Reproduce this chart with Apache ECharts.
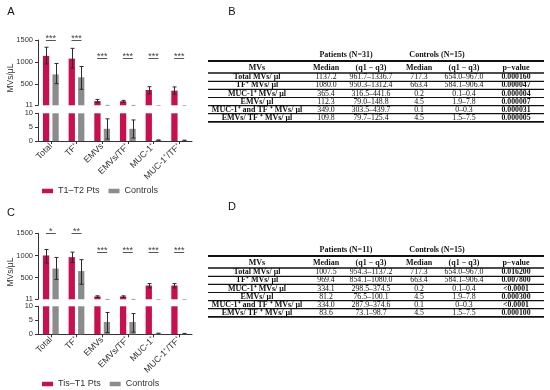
<!DOCTYPE html>
<html><head><meta charset="utf-8">
<script src="https://cdn.jsdelivr.net/npm/echarts@6/dist/echarts.min.js"></script>
<style>html,body{margin:0;padding:0;background:#fff}#c{width:550px;height:390px}</style>
</head><body><div id="c"></div><script>
// ---------- data ----------
const categories = ['Total', 'TF⁺', 'EMVs', 'EMVs/TF⁺', 'MUC-1⁺', 'MUC-1⁺/TF⁺'];
const topTicks = [11, 500, 1000, 1500];
// Panel A (T1–T2 Pts vs Controls)
const ptsA = [1137, 1075, 108, 103, 360, 345];
const ptsALow = [955, 860, 72, 76, 272, 262];
const ptsAHigh = [1335, 1310, 145, 124, 435, 430];
const ctlA = [715, 650, 4.4, 4.4, 0.2, 0.1];
const ctlALow = [505, 375, 0.7, 1.1, 0.1, 0];
const ctlAHigh = [965, 895, 8.0, 7.6, 0.4, 0.3];
const sigA = ['***', '***', '***', '***', '***', '***'];
const sigAHeight = [1500, 1500, 1080, 1080, 1080, 1080];
// Panel C (Tis–T1 Pts vs Controls)
const ptsC = [1000, 962, 75, 75, 322, 322];
const ptsCLow = [830, 840, 52, 52, 268, 268];
const ptsCHigh = [1135, 1075, 90, 90, 365, 365];
const ctlC = [705, 648, 4.4, 4.4, 0.2, 0.1];
const ctlCLow = [460, 350, 0.6, 0.8, 0.1, 0];
const ctlCHigh = [955, 905, 7.8, 7.4, 0.4, 0.3];
const sigC = ['*', '**', '***', '***', '***', '***'];
const sigCHeight = [1510, 1510, 1080, 1080, 1080, 1080];
// Tables B and D
const tableHeaders = ['MVs', 'Median', '(q1 − q3)', 'Median', '(q1 − q3)', 'p−value'];
const tableRowLabels = ['Total MVs/ μl', 'TF⁺ MVs/ μl', 'MUC-1⁺ MVs/ μl', 'EMVs/ μl', 'MUC-1⁺ and TF ⁺ MVs/ μl', 'EMVs/ TF ⁺ MVs/ μl'];
const controlsMedian = ['717.3', '663.4', '0.2', '4.5', '0.1', '4.5'];
const controlsRange = ['654.0–967.0', '584.1–906.4', '0.1–0.4', '1.9–7.8', '0–0.3', '1.5–7.5'];
const tableBMedian = ['1137.2', '1080.0', '365.4', '112.3', '349.0', '109.8'];
const tableBRange = ['961.7–1336.7', '950.3–1312.4', '316.5–441.6', '79.0–148.8', '303.5–439.7', '79.7–125.4'];
const tableBP = ['0.000160', '0.000047', '0.000004', '0.000007', '0.000031', '0.000005'];
const tableDMedian = ['1007.5', '969.4', '334.1', '81.2', '334.0', '83.6'];
const tableDRange = ['954.3–1137.2', '854.1–1080.0', '298.5–374.5', '76.5–100.1', '287.9–374.6', '73.1–98.7'];
const tableDP = ['0.016200', '0.007800', '<0.0001', '0.000300', '<0.0001', '0.000100'];

// ---------- style ----------
const RED = '#C8104E', GRAY = '#8C8C8C', AX = '#333';
const SANS = '"Liberation Sans", Arial, sans-serif';
const SERIF = '"Liberation Serif", "Times New Roman", serif';
const BW = 6.3, GAP = '50%', OFF = BW * 1.5 / 2;

const chart = echarts.init(document.getElementById('c'), null, {renderer: 'canvas'});

const grids = [
  {left: 38, top: 40, width: 154, height: 65.3},
  {left: 38, top: 113.3, width: 154, height: 27.7},
  {left: 38, top: 233.3, width: 154, height: 66},
  {left: 38, top: 306.3, width: 154, height: 28}
];

function xAxisFor(i, bottom) {
  return {
    type: 'category', gridIndex: i, data: categories,
    axisLine: {show: bottom, lineStyle: {color: AX, width: 1}},
    axisTick: {show: bottom, alignWithLabel: true, length: 3, lineStyle: {color: AX}},
    axisLabel: {show: bottom, rotate: 45, fontSize: 8.8, color: '#333', fontFamily: SANS, margin: 4, interval: 0},
    splitLine: {show: false}
  };
}
function yAxisFor(i, bottom) {
  const base = {
    type: 'value', gridIndex: i,
    axisLine: {show: true, lineStyle: {color: AX, width: 1}},
    axisTick: {show: true, length: 3, lineStyle: {color: AX}},
    axisLabel: {fontSize: 7.5, color: '#333', fontFamily: SANS, margin: 5, showMinLabel: true, showMaxLabel: true,
      formatter: function (v) { return String(v); }},
    splitLine: {show: false}
  };
  if (bottom) { base.min = 0; base.max = 10; base.interval = 5; }
  else {
    base.min = 11; base.max = 1500;
    base.axisTick.customValues = topTicks;
    base.axisLabel.customValues = topTicks;
  }
  return base;
}

function errRender(offset) {
  return function (params, api) {
    const i = api.value(0);
    const pHi = api.coord([i, api.value(2)]);
    const pLo = api.coord([i, api.value(1)]);
    const x = Math.round(pHi[0] + offset) + 0.5;
    const c = 2;
    const st = {stroke: '#2b2b2b', lineWidth: 1};
    return {type: 'group', children: [
      {type: 'line', shape: {x1: x, y1: pHi[1], x2: x, y2: pLo[1]}, style: st},
      {type: 'line', shape: {x1: x - c, y1: pHi[1], x2: x + c, y2: pHi[1]}, style: st},
      {type: 'line', shape: {x1: x - c, y1: pLo[1], x2: x + c, y2: pLo[1]}, style: st}
    ]};
  };
}
function sigRender(labels) {
  return function (params, api) {
    const p = api.coord([api.value(0), api.value(1)]);
    const x = p[0], y = Math.round(p[1]) + 0.5;
    return {type: 'group', children: [
      {type: 'line', shape: {x1: x - 5, y1: y, x2: x + 5, y2: y}, style: {stroke: '#555', lineWidth: 1}},
      {type: 'text', x: x, y: y - 1.5, style: {text: labels[params.dataIndex], fill: '#444', fontSize: 9, fontFamily: SANS, align: 'center', verticalAlign: 'middle'}}
    ]};
  };
}

function panelSeries(gTop, ptsName, pts, pLo, pHi, ctl, cLo, cHi, sig, sigH) {
  const s = [];
  [gTop, gTop + 1].forEach(function (g) {
    s.push({type: 'bar', name: ptsName, xAxisIndex: g, yAxisIndex: g, data: pts, barWidth: BW, barGap: GAP, clip: true, itemStyle: {color: RED}, silent: true});
    s.push({type: 'bar', name: 'Controls', xAxisIndex: g, yAxisIndex: g, data: ctl, barWidth: BW, barGap: GAP, clip: true, itemStyle: {color: GRAY}, silent: true});
    s.push({type: 'custom', xAxisIndex: g, yAxisIndex: g, clip: true, z: 5, silent: true,
      data: pts.map(function (v, i) { return [i, pLo[i], pHi[i]]; }),
      encode: {x: 0, y: [1, 2]}, renderItem: errRender(-OFF)});
    s.push({type: 'custom', xAxisIndex: g, yAxisIndex: g, clip: true, z: 5, silent: true,
      data: ctl.map(function (v, i) { return [i, cLo[i], cHi[i]]; }),
      encode: {x: 0, y: [1, 2]}, renderItem: errRender(OFF)});
  });
  s.push({type: 'custom', xAxisIndex: gTop, yAxisIndex: gTop, clip: false, z: 5, silent: true,
    data: sigH.map(function (h, i) { return [i, h]; }),
    encode: {x: 0, y: 1}, renderItem: sigRender(sig)});
  return s;
}

// ---------- tables as graphic elements ----------
const TL = 208, TR = 544;
const colX = [257, 326, 371, 419, 464, 516];
function tableGraphics(yOff, nPatients, med, range, p) {
  const g = [];
  const txt = function (x, y, t, bold, size) {
    g.push({type: 'text', x: x, y: y + yOff, style: {text: t, fill: '#111', fontSize: size || 7.8, fontFamily: SERIF, fontWeight: bold ? 'bold' : 'normal', align: 'center', verticalAlign: 'middle'}});
  };
  const line = function (y, w) {
    g.push({type: 'line', shape: {x1: TL, y1: y + yOff, x2: TR, y2: y + yOff}, style: {stroke: '#111', lineWidth: w}});
  };
  txt(346, 54.5, 'Patients (N=' + nPatients + ')', true, 8);
  txt(437, 54.5, 'Controls (N=15)', true, 8);
  line(61, 1.8);
  tableHeaders.forEach(function (h, j) { txt(colX[j], 67.5, h, true, 8); });
  line(73, 1.4);
  for (let i = 0; i < tableRowLabels.length; i++) {
    const y = 77.3 + 8.1 * i;
    txt(colX[0], y, tableRowLabels[i], true, 8);
    txt(colX[1], y, med[i], false);
    txt(colX[2], y, range[i], false);
    txt(colX[3], y, controlsMedian[i], false);
    txt(colX[4], y, controlsRange[i], false);
    txt(colX[5], y, p[i], true);
    line(81.3 + 8.1 * i, i === tableRowLabels.length - 1 ? 1.8 : 1.2);
  }
  return g;
}

const letters = [['A', 11, 12.2], ['B', 232, 12.2], ['C', 11, 212.5], ['D', 232, 207.2]].map(function (l) {
  return {type: 'text', x: l[1], y: l[2], style: {text: l[0], fontSize: 11, fontFamily: SANS, fill: '#111', align: 'center', verticalAlign: 'middle'}};
});
const yNames = [78, 272].map(function (y) {
  return {type: 'text', x: 11, y: y, rotation: Math.PI / 2, style: {text: 'MVs/μL', fontSize: 8.5, fontFamily: SANS, fill: '#333', align: 'center', verticalAlign: 'middle'}};
});

const legendBase = {icon: 'rect', itemWidth: 11, itemHeight: 4.5, itemGap: 9, padding: 0, selectedMode: false,
  textStyle: {fontSize: 9, color: '#333', fontFamily: SANS}, orient: 'horizontal'};

chart.setOption({
  animation: false,
  backgroundColor: '#fff',
  grid: grids,
  xAxis: [xAxisFor(0, false), xAxisFor(1, true), xAxisFor(2, false), xAxisFor(3, true)],
  yAxis: [yAxisFor(0, false), yAxisFor(1, true), yAxisFor(2, false), yAxisFor(3, true)],
  legend: [
    Object.assign({}, legendBase, {left: 42, top: 186.5, data: ['T1–T2 Pts', 'Controls']}),
    Object.assign({}, legendBase, {left: 42, top: 379.5, data: ['Tis–T1 Pts', 'Controls']})
  ],
  series: [].concat(
    panelSeries(0, 'T1–T2 Pts', ptsA, ptsALow, ptsAHigh, ctlA, ctlALow, ctlAHigh, sigA, sigAHeight),
    panelSeries(2, 'Tis–T1 Pts', ptsC, ptsCLow, ptsCHigh, ctlC, ctlCLow, ctlCHigh, sigC, sigCHeight)
  ),
  graphic: [].concat(
    letters, yNames,
    tableGraphics(0, 31, tableBMedian, tableBRange, tableBP),
    tableGraphics(195, 11, tableDMedian, tableDRange, tableDP)
  )
});
</script></body></html>
